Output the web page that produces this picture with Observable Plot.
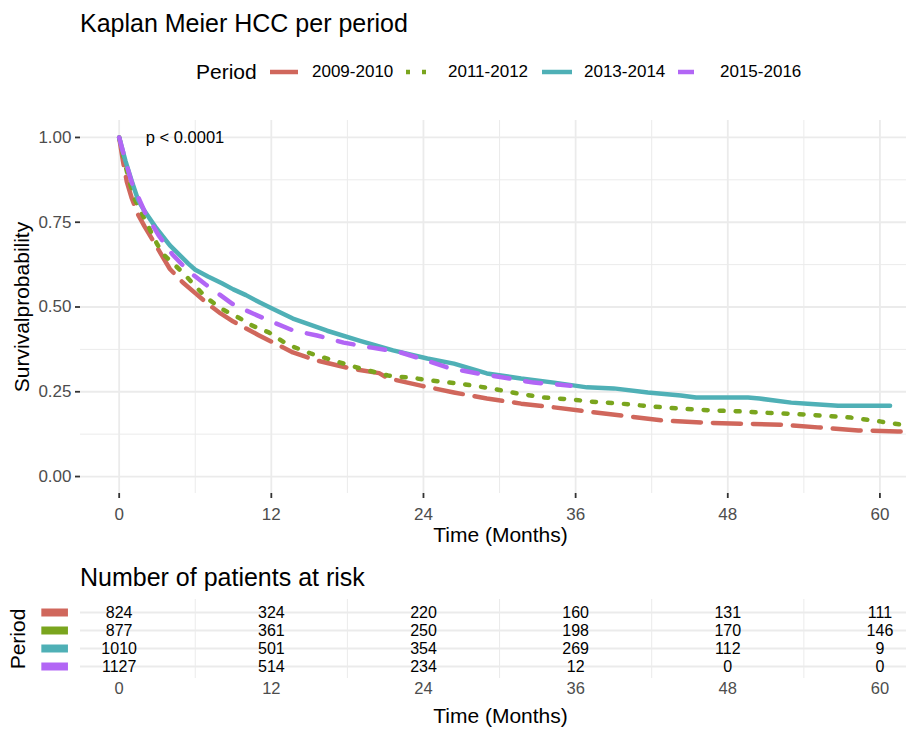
<!DOCTYPE html>
<html><head><meta charset="utf-8">
<script src="https://cdn.jsdelivr.net/npm/d3@7"></script>
<script src="https://cdn.jsdelivr.net/npm/@observablehq/plot@0.6"></script>
<style>
html,body{margin:0;padding:0;background:#fff;overflow:hidden;}
#wrap{position:relative;width:906px;height:729px;overflow:hidden;font-family:"Liberation Sans",Arial,sans-serif;color:#000;}
.abs{position:absolute;white-space:nowrap;}
.abs svg{display:block;max-width:none !important;}
</style></head><body><div id="wrap"></div>
<script>
// ---- data ----
const periods = ["2009-2010", "2011-2012", "2013-2014", "2015-2016"];
const colors = ["#D0675C", "#7AA51E", "#4FB0B6", "#B266F5"];

const time0910 = [0,0.3,0.6,1,1.5,2,3,4,5,6,7,8,9,10,11,12,13.7,15.6,18.2,20.5,21.2,23.8,26.4,29,31.7,34.3,36.9,40.3,42.9,46.1,49,52.2,55.1,58.3,61.4,63.2];
const surv0910 = [1,0.93,0.87,0.82,0.772,0.738,0.675,0.612,0.573,0.541,0.509,0.481,0.457,0.437,0.417,0.398,0.366,0.342,0.319,0.305,0.29,0.268,0.248,0.23,0.215,0.204,0.192,0.177,0.165,0.159,0.156,0.153,0.145,0.136,0.133,0.132];

const time1112 = [0,0.3,0.7,1.2,2,3,3.5,5,6,6.8,8,9.4,10.5,11.8,13.3,15.1,16.9,19,21.2,23.5,24.6,26.9,29.3,31.4,33.5,35.8,37.2,39.6,41.9,44.3,46.7,49.2,50.4,54,57.7,60.1,62.2,63.2];
const surv1112 = [1,0.95,0.885,0.82,0.76,0.685,0.655,0.602,0.562,0.53,0.496,0.469,0.445,0.425,0.389,0.363,0.342,0.319,0.298,0.289,0.283,0.274,0.26,0.245,0.233,0.227,0.221,0.215,0.207,0.2,0.195,0.192,0.189,0.183,0.174,0.162,0.15,0.146];

const time1314 = [0,0.5,1,1.5,2,2.84,4,5.45,6,7,8.1,9,10,11.1,12.1,13.7,16.4,19,21.6,24.3,26.4,29,31.7,34.3,36.9,39,41.7,44.3,45.5,49.6,50.5,53,54.3,56.7,60.8];
const surv1314 = [1,0.93,0.87,0.815,0.783,0.737,0.682,0.628,0.61,0.59,0.57,0.552,0.535,0.513,0.495,0.466,0.43,0.4,0.372,0.348,0.333,0.304,0.289,0.277,0.263,0.26,0.248,0.239,0.233,0.233,0.23,0.218,0.215,0.209,0.209];

const time1516 = [0,0.5,1,2.05,3.1,4.2,5.45,6.8,8.9,10,11.8,13.7,15.6,17.7,19.8,22.2,24,26.1,28.3,30.3,32.7,34.8,35.6];
const surv1516 = [1,0.93,0.866,0.778,0.712,0.655,0.606,0.567,0.51,0.49,0.46,0.431,0.416,0.395,0.381,0.366,0.345,0.319,0.304,0.292,0.277,0.271,0.268];

const riskTimes = [0, 12, 24, 36, 48, 60];
const risk0910 = [824, 324, 220, 160, 131, 111];
const risk1112 = [877, 361, 250, 198, 170, 146];
const risk1314 = [1010, 501, 354, 269, 112, 9];
const risk1516 = [1127, 514, 234, 12, 0, 0];

const xTicks = [0, 12, 24, 36, 48, 60];
const xMinor = [6, 18, 30, 42, 54];
const yTicks = [0, 0.25, 0.5, 0.75, 1];
const yMinor = [0.125, 0.375, 0.625, 0.875];

const titleText = "Kaplan Meier HCC per period";
const riskTitleText = "Number of patients at risk";
const legendTitle = "Period";
const xLabel = "Time (Months)";
const yLabel = "Survivalprobability";
const pText = "p < 0.0001";

// ---- styles ----
const dashes = ["28 12", "4 12", null, "16 16"];
const FONT = '"Liberation Sans", Arial, sans-serif';
const xDomain = [-3.05, 63.2];
const gridCol = "#EBEBEB";

const wrap = document.getElementById("wrap");

// Title
const t = document.createElement("div");
t.className = "abs"; t.textContent = titleText;
Object.assign(t.style, {left: "80px", top: "8px", fontSize: "25px", lineHeight: "30px"});
wrap.appendChild(t);

// Legend
const lt = document.createElement("div");
lt.className = "abs"; lt.textContent = legendTitle;
Object.assign(lt.style, {left: "196px", top: "57px", fontSize: "21px", lineHeight: "30px"});
wrap.appendChild(lt);
periods.forEach((p, i) => {
  const left = 270 + i * 136;
  const svg = d3.create("svg").attr("width", 30).attr("height", 10);
  const ln = svg.append("line").attr("x1", 0).attr("x2", 30).attr("y1", 5).attr("y2", 5)
    .attr("stroke", colors[i]).attr("stroke-width", 4.5);
  if (dashes[i]) ln.attr("stroke-dasharray", dashes[i]);
  const k = document.createElement("div");
  k.className = "abs";
  Object.assign(k.style, {left: left + "px", top: "67px"});
  k.appendChild(svg.node());
  wrap.appendChild(k);
  const lab = document.createElement("div");
  lab.className = "abs"; lab.textContent = p;
  Object.assign(lab.style, {left: (left + 42) + "px", top: "60px", fontSize: "17px", lineHeight: "24px"});
  wrap.appendChild(lab);
});

// Main KM plot
const series = [
  {time: time0910, surv: surv0910},
  {time: time1112, surv: surv1112},
  {time: time1314, surv: surv1314},
  {time: time1516, surv: surv1516}
];
const lineMarks = series.map((s, i) => Plot.line(
  s.time.map((tt, j) => ({t: tt, s: s.surv[j]})),
  Object.assign({x: "t", y: "s", stroke: colors[i], strokeWidth: 4.5, strokeLinejoin: "round"},
    dashes[i] ? {strokeDasharray: dashes[i]} : {})
));

const main = Plot.plot({
  width: 920, height: 445,
  marginLeft: 80, marginRight: 0, marginTop: 20, marginBottom: 52,
  style: {fontFamily: FONT, fontSize: "16px", background: "transparent", overflow: "visible", maxWidth: "none"},
  x: {domain: xDomain, axis: null},
  y: {domain: [-0.05, 1.05], axis: null},
  marks: [
    Plot.gridY(yMinor, {stroke: gridCol, strokeOpacity: 1, strokeWidth: 1}),
    Plot.gridX(xMinor, {stroke: gridCol, strokeOpacity: 1, strokeWidth: 1}),
    Plot.gridY(yTicks, {stroke: gridCol, strokeOpacity: 1, strokeWidth: 1.8}),
    Plot.gridX(xTicks, {stroke: gridCol, strokeOpacity: 1, strokeWidth: 1.8}),
    ...lineMarks,
    Plot.text([pText], {x: 2.1, y: 1.0, text: d => d, textAnchor: "start", fontSize: 16.5, fill: "#000"}),
    Plot.axisY(yTicks, {tickFormat: d3.format(".2f"), tickSize: 5, tickPadding: 4, fontSize: 17, fill: "#4D4D4D", stroke: "#333", strokeWidth: 1.8, label: null}),
    Plot.axisX(xTicks, {tickSize: 5, tickPadding: 9, fontSize: 17, fill: "#4D4D4D", stroke: "#333", strokeWidth: 1.8, label: null}),
    Plot.text([yLabel], {frameAnchor: "left", textAnchor: "middle", lineAnchor: "middle", rotate: -90, dx: -58, fontSize: 21, fill: "#000", text: d => d}),
    Plot.text([xLabel], {frameAnchor: "bottom", textAnchor: "middle", lineAnchor: "middle", dy: 42, fontSize: 21, fill: "#000", text: d => d})
  ]
});
const mw = document.createElement("div");
mw.className = "abs"; Object.assign(mw.style, {left: "0px", top: "100px"});
mw.appendChild(main);
wrap.appendChild(mw);

// Risk table title
const rt = document.createElement("div");
rt.className = "abs"; rt.textContent = riskTitleText;
Object.assign(rt.style, {left: "80px", top: "562px", fontSize: "25px", lineHeight: "30px"});
wrap.appendChild(rt);

// Risk table
const riskSeries = [risk0910, risk1112, risk1314, risk1516];
const riskData = [];
periods.forEach((p, i) => riskTimes.forEach((tt, j) => riskData.push({period: p, t: tt, n: riskSeries[i][j]})));

const risk = Plot.plot({
  width: 920, height: 139,
  marginLeft: 80, marginRight: 0, marginTop: 9, marginBottom: 51,
  style: {fontFamily: FONT, fontSize: "16px", background: "transparent", overflow: "visible", maxWidth: "none"},
  x: {domain: xDomain, axis: null},
  y: {type: "point", domain: periods, padding: 0.6, axis: null},
  marks: [
    Plot.gridX(xMinor, {stroke: gridCol, strokeOpacity: 1, strokeWidth: 1}),
    Plot.gridY(periods, {stroke: gridCol, strokeOpacity: 1, strokeWidth: 1.8}),
    Plot.text(riskData, {x: "t", y: "period", text: d => String(d.n), fontSize: 16, fill: "#000"}),
    Plot.ruleY(periods, {y: d => d, x1: -6.1, x2: -4.0, stroke: d => colors[periods.indexOf(d)], strokeWidth: 8}),
    Plot.axisX(xTicks, {tickSize: 0, tickPadding: 4, fontSize: 16.5, fill: "#4D4D4D", label: null}),
    Plot.text([legendTitle], {frameAnchor: "left", textAnchor: "middle", lineAnchor: "middle", rotate: -90, dx: -62, fontSize: 21, fill: "#000", text: d => d}),
    Plot.text([xLabel], {frameAnchor: "bottom", textAnchor: "middle", lineAnchor: "middle", dy: 37.6, fontSize: 21, fill: "#000", text: d => d})
  ]
});
const rw = document.createElement("div");
rw.className = "abs"; Object.assign(rw.style, {left: "0px", top: "590px"});
rw.appendChild(risk);
wrap.appendChild(rw);
</script></body></html>
